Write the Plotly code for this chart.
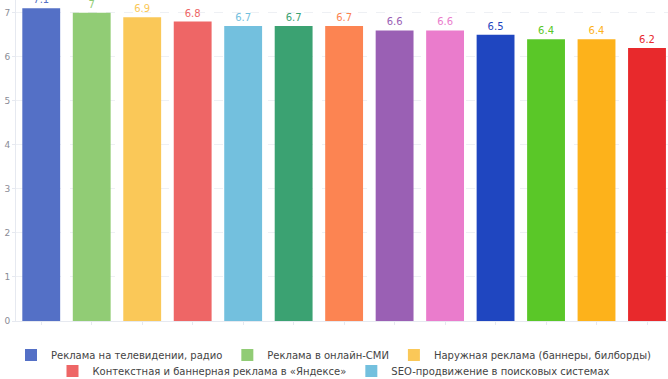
import plotly.graph_objects as go

categories = [
    "Реклама на телевидении, радио",
    "Реклама в онлайн-СМИ",
    "Наружная реклама (баннеры, билборды)",
    "Контекстная и баннерная реклама в «Яндексе»",
    "SEO-продвижение в поисковых системах",
    "Категория 6", "Категория 7", "Категория 8", "Категория 9",
    "Категория 10", "Категория 11", "Категория 12", "Категория 13",
]
values = [7.1, 7, 6.9, 6.8, 6.7, 6.7, 6.7, 6.6, 6.6, 6.5, 6.4, 6.4, 6.2]
colors = ["#5470c6", "#91cc75", "#fac858", "#ee6666", "#73c0de", "#3ba272",
          "#fc8452", "#9a60b4", "#ea7ccc", "#1f46c0", "#5ac728", "#fdb21b", "#e8292c"]
legend_rows = ["legend", "legend", "legend", "legend2", "legend2"]
y_ticks = [0, 1, 2, 3, 4, 5, 6, 7]

fig = go.Figure()
for i, (c, v, col) in enumerate(zip(categories, values, colors)):
    fig.add_trace(go.Bar(
        x=[i], y=[v], name=c, marker=dict(color=col, line=dict(width=0)),
        text=[f"{v:g}"], textposition="outside", cliponaxis=False,
        textfont=dict(color=col, size=10, family="DejaVu Sans"),
        showlegend=i < 5, legend=legend_rows[i] if i < 5 else "legend",
        width=0.75,
    ))

legend_common = dict(orientation="h", xref="container", yref="container",
                     xanchor="center", x=0.5, yanchor="middle",
                     font=dict(size=10, family="DejaVu Sans", color="#444"),
                     bgcolor="rgba(0,0,0,0)", itemwidth=30, tracegroupgap=0)
fig.update_layout(
    width=668, height=379,
    margin=dict(l=16, r=0, t=0, b=58, autoexpand=False),
    paper_bgcolor="white", plot_bgcolor="white",
    barmode="overlay",
    showlegend=True,
    legend=dict(y=0.063, **legend_common),
    legend2=dict(y=0.021, **legend_common),
    xaxis=dict(range=[-0.5, 12.416], showticklabels=False, showgrid=False,
               zeroline=False, showline=True, linecolor="#e6e9f0",
               ticks="outside", ticklen=3, tickcolor="#e6e9f0",
               tickvals=list(range(13)), automargin=False),
    yaxis=dict(range=[0, 7.29], tickvals=y_ticks, showgrid=True,
               gridcolor="#eef0f4", griddash="dash", zeroline=False,
               showline=True, linecolor="#e6e9f0", ticks="outside", ticklen=3,
               tickcolor="#e6e9f0", automargin=False,
               tickfont=dict(size=9, family="DejaVu Sans", color="#8a8c96")),
)
fig.write_html("out.html", config={"displayModeBar": False},
               post_script="document.body.style.margin='0px';document.body.style.overflow='hidden';")
